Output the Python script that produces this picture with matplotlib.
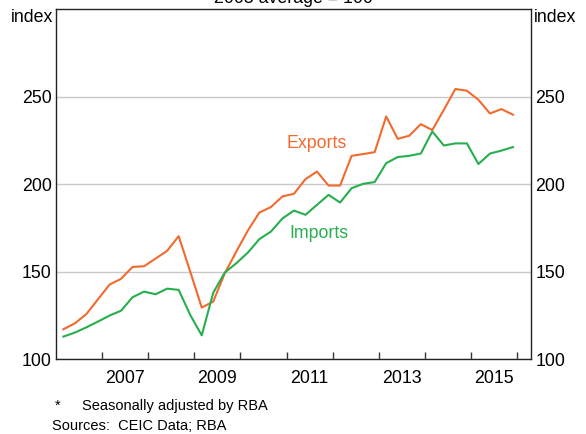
import matplotlib.pyplot as plt

plt.rcParams['font.family'] = ['Liberation Sans', 'DejaVu Sans']

# quarterly, 2006 Q1 to 2015 Q4 (2005 average = 100)
years = list(range(2006, 2016))
exports = [117.0, 120.4, 125.7, 134.1, 142.5, 145.8, 152.6, 153.0, 157.4, 161.8,
           170.2, 150.0, 129.4, 132.8, 149.0, 161.4, 173.4, 183.7, 186.8, 192.9,
           194.4, 202.8, 207.1, 199.1, 199.1, 216.1, 217.1, 218.2, 238.6, 225.8,
           227.6, 234.2, 230.8, 242.4, 254.3, 253.3, 248.1, 240.3, 242.8, 239.6]
imports = [112.8, 115.1, 118.1, 121.4, 124.8, 127.6, 135.3, 138.5, 137.0, 140.2,
           139.5, 125.2, 113.5, 137.9, 149.4, 154.7, 160.8, 168.5, 172.8, 180.3,
           184.8, 182.4, 188.1, 193.8, 189.4, 197.6, 200.1, 201.1, 211.9, 215.4,
           216.1, 217.4, 230.0, 222.0, 223.2, 223.2, 211.4, 217.4, 219.1, 221.1]
dates = [y + q * 0.25 + 0.16 for y in years for q in range(4)]

orange = '#f26a2e'
green = '#27ae4f'
fs = 12.8

fig = plt.figure(figsize=(5.86, 4.34), dpi=100)
ax = fig.add_axes([56 / 586, 75 / 434, 475 / 586, 350 / 434])

ax.plot(dates, exports, color=orange, lw=1.5)
ax.plot(dates, imports, color=green, lw=1.5)

ax.set_xlim(2006, 2016.3)
ax.set_ylim(100, 300)
ax.set_yticks([100, 150, 200, 250])
ax.grid(axis='y', color='#c8c8c8', lw=1)
ax.set_axisbelow(True)

ax.set_xticks(range(2007, 2017))
ax.set_xticklabels([])
ax.set_xticks([y + 0.5 for y in range(2007, 2016, 2)], minor=True)
ax.set_xticklabels([str(y) for y in range(2007, 2016, 2)], minor=True)
ax.tick_params(axis='x', which='major', direction='in', length=5, width=1, color='#333333')
ax.tick_params(axis='x', which='minor', length=0, pad=8, labelsize=fs)
ax.tick_params(axis='y', length=0, pad=3, labelsize=fs,
               labelright=True, right=False)
for side in ax.spines.values():
    side.set_color('#222222')
    side.set_linewidth(1)

ax.text(2011.66, 223, 'Exports', color=orange, fontsize=fs, ha='center', va='center')
ax.text(2011.7, 172, 'Imports', color=green, fontsize=fs, ha='center', va='center')

fig.text(53 / 586, 1 - 18 / 434, 'index', ha='right', va='center', fontsize=fs)
fig.text(534 / 586, 1 - 18 / 434, 'index', ha='left', va='center', fontsize=fs)
fig.text(0.5, 1 - 3 / 434, '2005 average = 100', ha='center', va='baseline', fontsize=fs)

fig.text(55 / 586, 1 - 406 / 434, '*', fontsize=10.5, va='center')
fig.text(82 / 586, 1 - 406 / 434, 'Seasonally adjusted by RBA', fontsize=10.5, va='center')
fig.text(52 / 586, 1 - 426 / 434, 'Sources:  CEIC Data; RBA', fontsize=10.5, va='center')

fig.savefig('out.png', dpi=100)
